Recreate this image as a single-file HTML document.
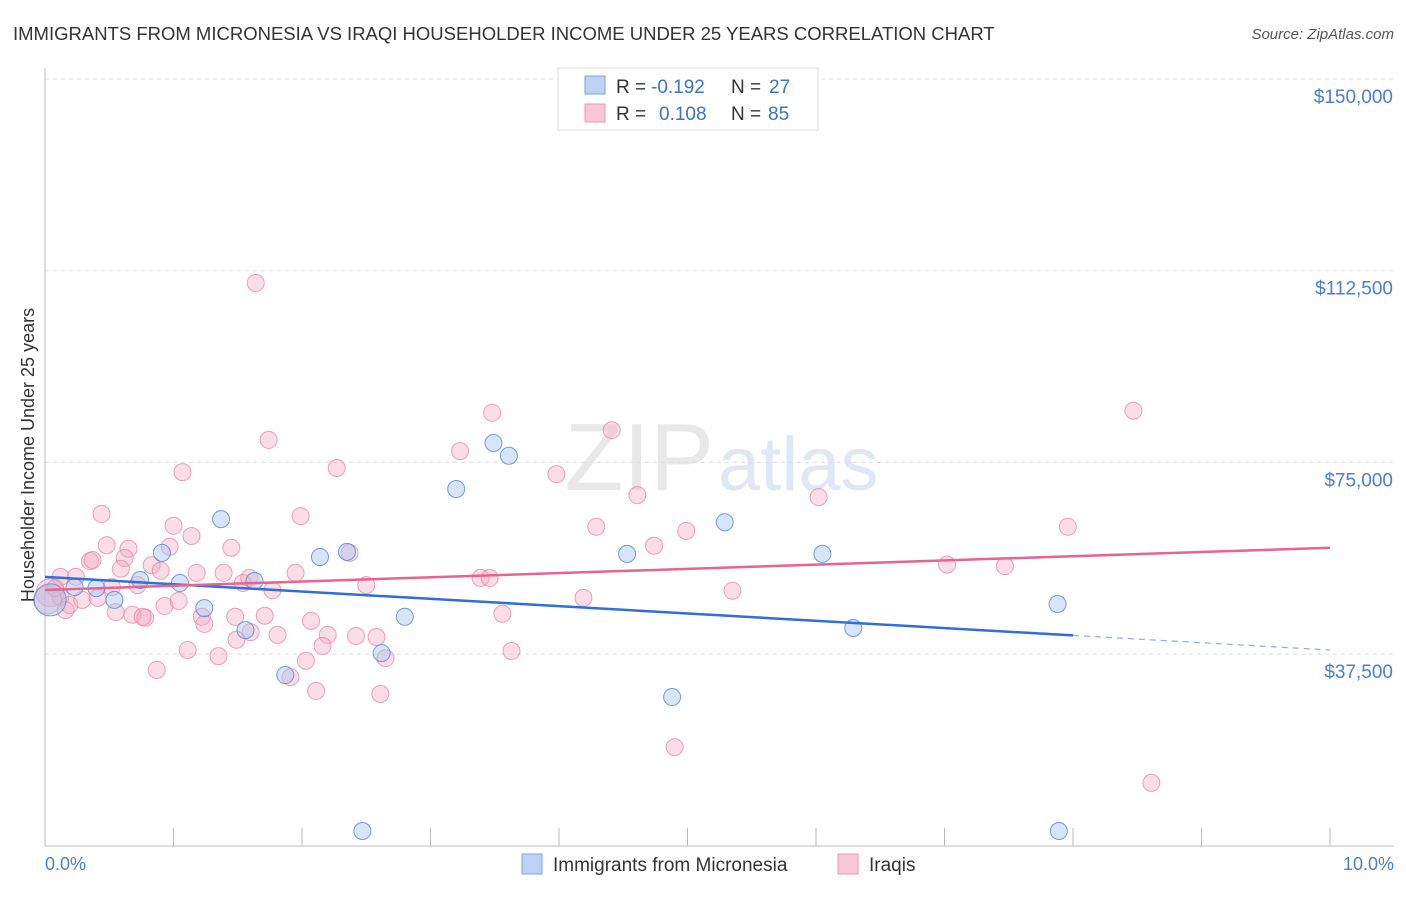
<!DOCTYPE html>
<html><head><meta charset="utf-8"><style>
body{margin:0;background:#fff;font-family:"Liberation Sans",sans-serif;}
svg text{font-family:"Liberation Sans",sans-serif;}
</style></head><body>
<svg id="c" width="1406" height="892" xmlns="http://www.w3.org/2000/svg">
<text x="13" y="40" font-size="18.5" fill="#333">IMMIGRANTS FROM MICRONESIA VS IRAQI HOUSEHOLDER INCOME UNDER 25 YEARS CORRELATION CHART</text>
<text x="1394" y="39" font-size="15" fill="#555" font-style="italic" text-anchor="end">Source: ZipAtlas.com</text>
<text x="714" y="490" font-size="96" fill="#e8e8e8" text-anchor="end" font-family="Liberation Serif">ZIP</text>
<text x="718" y="490" font-size="76" fill="#dde8f4">atlas</text>
<g id="grid"></g><g id="axes"></g><g id="pts"></g><g id="lines"></g>
<text transform="translate(34,455) rotate(-90)" font-size="18" fill="#333" text-anchor="middle">Householder Income Under 25 years</text>
<text x="45" y="870" font-size="18" fill="#4a7fd0">0.0%</text>
<text x="1394" y="870" font-size="18" fill="#4a7fd0" text-anchor="end">10.0%</text>
<g>
<rect x="558" y="68" width="260" height="62" fill="#fff" stroke="#ddd"/>
<rect x="585" y="76" width="20" height="18" fill="#bcd3f3" stroke="#7aa6e0"/>
<rect x="585" y="104" width="20" height="18" fill="#f9c6d5" stroke="#ec9ab3"/>
<text x="616" y="93" font-size="19" fill="#333">R =</text>
<text x="651" y="93" font-size="19" fill="#3b73c8">-0.192</text>
<text x="731" y="93" font-size="19" fill="#333">N =</text>
<text x="769" y="93" font-size="19" fill="#3b73c8">27</text>
<text x="616" y="120" font-size="19" fill="#333">R =</text>
<text x="659" y="120" font-size="19" fill="#3b73c8">0.108</text>
<text x="731" y="120" font-size="19" fill="#333">N =</text>
<text x="768" y="120" font-size="19" fill="#3b73c8">85</text>
</g>
<g>
<rect x="522" y="854" width="20" height="20" fill="#bcd3f3" stroke="#7aa6e0"/>
<text x="553" y="871" font-size="19" fill="#333">Immigrants from Micronesia</text>
<rect x="838" y="854" width="20" height="20" fill="#f9c6d5" stroke="#ec9ab3"/>
<text x="869" y="871" font-size="19" fill="#333">Iraqis</text>
</g>
</svg>
<script>
const yTicks=[37500,75000,112500,150000];
const yTickLabels=["$37,500","$75,000","$112,500","$150,000"];
const blueX=[0.04,0.23,0.40,0.54,0.74,0.91,1.05,1.24,1.37,1.56,1.63,1.87,2.14,2.35,2.62,2.80,3.20,3.49,3.61,4.53,4.88,5.29,6.05,6.29,7.88,2.47,7.89];
const blueY=[48100,50600,50400,48100,52000,57300,51400,46500,63900,42200,51800,33400,56500,57500,37700,44800,69800,78800,76300,57100,29100,63300,57100,42600,47300,2900,2900];
const pinkX=[0.44,0.48,0.65,0.35,0.37,0.62,0.59,1.00,1.14,0.97,0.83,0.90,1.45,1.18,1.39,1.99,1.95,0.12,0.24,0.52,0.72,1.54,1.59,1.77,2.37,2.50,0.04,0.12,0.19,0.29,0.41,0.55,0.68,0.78,0.76,0.93,1.04,1.22,1.24,1.48,1.71,1.60,1.49,1.81,2.07,2.20,2.16,2.42,2.58,2.65,1.11,1.35,0.87,1.91,2.03,2.11,2.61,1.64,1.74,1.07,2.27,3.48,3.23,4.41,3.98,4.61,4.29,4.99,4.74,5.35,4.19,6.02,7.02,7.47,7.96,8.47,8.61,4.90,3.39,3.46,3.56,3.63,0.02,0.08,0.16];
const pinkY=[64900,58800,58100,55700,55900,56300,54200,62600,60600,58500,54900,53800,58300,53400,53400,64500,53400,52600,52600,50600,51000,51400,52400,50000,57300,51000,49500,48700,47100,48100,48500,45700,45200,44600,44800,46900,47900,44800,43400,44800,45000,41800,40300,41250,44000,41250,39100,41050,40850,36700,38300,37100,34400,33000,36200,30300,29700,110100,79400,73100,73900,84700,77200,81300,72700,68600,62400,61600,58700,49900,48500,68200,55000,54700,62400,85100,12300,19300,52400,52400,45400,38100,48100,50400,46100];
const blueTrend=[52600,-1430];
const pinkTrend=[50050,825];
const NS="http://www.w3.org/2000/svg";
const X=p=>45+p*128.5;
const Y=v=>79+(150000-v)/37500*191.7;
function mk(t,a,parent){const e=document.createElementNS(NS,t);for(const k in a)e.setAttribute(k,a[k]);document.getElementById(parent).appendChild(e);return e;}
yTicks.forEach((v,i)=>{
 const g=mk('line',{x1:45,x2:1394,y1:Y(v),y2:Y(v),stroke:'#ddd','stroke-dasharray':'4,4'},'grid');
 
 
 const t=mk('text',{x:1393,y:Y(v)+24,'font-size':19,fill:'#4a7fd0','text-anchor':'end'},'grid');
 t.textContent=yTickLabels[i];
 
 
});
const ax=mk('line',{x1:45,x2:45,y1:68,y2:846,stroke:'#bbb'},'axes');


const bx=mk('line',{x1:45,x2:1394,y1:846,y2:846,stroke:'#bbb'},'axes');


for(let i=1;i<=10;i++){const t=mk('line',{x1:X(i),x2:X(i),y1:828,y2:846,stroke:'#bbb'},'axes');
 
 }
pinkX.forEach((x,i)=>{const big=x<0.06;const c=mk('circle',{cx:X(x),cy:Y(pinkY[i]),r:big?14:8.5,fill:'#f4a6bf','fill-opacity':0.38,stroke:'#e8839f','stroke-opacity':0.75,'stroke-width':1},'pts');
 
 });
blueX.forEach((x,i)=>{const big=x<0.06;const c=mk('circle',{cx:X(x),cy:Y(blueY[i]),r:big?16:8.5,fill:'#a9c6ef','fill-opacity':0.45,stroke:'#4f86d6','stroke-opacity':0.8,'stroke-width':1},'pts');
 
 });
const bt=v=>blueTrend[0]+blueTrend[1]*v, pt=v=>pinkTrend[0]+pinkTrend[1]*v;
let l=mk('line',{x1:X(0),y1:Y(bt(0)),x2:X(8),y2:Y(bt(8)),stroke:'#2f6fd6','stroke-width':2.5},'lines');


l=mk('line',{x1:X(8),y1:Y(bt(8)),x2:X(10),y2:Y(bt(10)),stroke:'#8fb0e0','stroke-width':1.2,'stroke-dasharray':'6,5'},'lines');


l=mk('line',{x1:X(0),y1:Y(pt(0)),x2:X(10),y2:Y(pt(10)),stroke:'#e8638d','stroke-width':2.5},'lines');


</script>
</body></html>
